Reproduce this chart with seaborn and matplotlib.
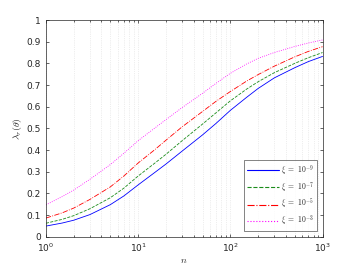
import numpy as np
import pandas as pd
import matplotlib
matplotlib.use('Agg')
import matplotlib.pyplot as plt
from matplotlib.lines import Line2D
import seaborn as sns

sns.set_style('ticks')
plt.rcParams['font.family'] = ['DejaVu Sans']
plt.rcParams['mathtext.fontset'] = 'cm'

# 그림에서 읽은 값 (n, 각 xi별 lambda_r)
n_vals = [1, 1.5, 2, 3, 5, 7, 10, 15, 20, 30, 50, 70, 100, 150, 200, 300, 500, 700, 1000]
lam_xi9 = [0.049, 0.063, 0.076, 0.102, 0.148, 0.188, 0.239, 0.295, 0.335, 0.395,
           0.470, 0.523, 0.583, 0.643, 0.684, 0.733, 0.780, 0.808, 0.832]
lam_xi7 = [0.062, 0.080, 0.097, 0.129, 0.180, 0.224, 0.280, 0.338, 0.380, 0.443,
           0.520, 0.572, 0.627, 0.681, 0.715, 0.757, 0.800, 0.826, 0.850]
lam_xi5 = [0.086, 0.110, 0.132, 0.172, 0.230, 0.280, 0.340, 0.400, 0.445, 0.507,
           0.578, 0.625, 0.670, 0.718, 0.748, 0.787, 0.830, 0.855, 0.877]
lam_xi3 = [0.147, 0.185, 0.215, 0.265, 0.333, 0.385, 0.443, 0.500, 0.540, 0.596,
           0.662, 0.708, 0.754, 0.797, 0.823, 0.850, 0.878, 0.894, 0.908]

labels = [r'$\xi\ =\ 10^{-9}$', r'$\xi\ =\ 10^{-7}$', r'$\xi\ =\ 10^{-5}$', r'$\xi\ =\ 10^{-3}$']
series = [lam_xi9, lam_xi7, lam_xi5, lam_xi3]
colors = ['#0000ff', '#1a8c1a', '#ff0000', '#ff00ff']
styles = ['-', '--', '-.', ':']

fig = plt.figure(figsize=(3.56, 2.67), dpi=100)
ax = fig.add_axes([0.129, 0.1135, 0.777, 0.8115])

for ys, c, ls in zip(series, colors, styles):
    df = pd.DataFrame({'n': n_vals, 'lam': ys})
    sns.lineplot(data=df, x='n', y='lam', ax=ax, color=c, linestyle=ls,
                 linewidth=0.6)

ax.set_xscale('log')
ax.set_xlim(1, 1000)
ax.set_ylim(0, 1)
ax.set_yticks(np.arange(0, 1.01, 0.1))
ax.set_yticklabels(['0', '0.1', '0.2', '0.3', '0.4', '0.5', '0.6', '0.7', '0.8', '0.9', '1'])

ax.grid(True, which='both', axis='x', color='#dddddd', linestyle=':', linewidth=0.5)
ax.tick_params(which='both', direction='in', top=True, right=True,
               labelsize=6.5, colors='#262626', width=0.5, length=2.5)
ax.tick_params(which='minor', length=1.5)
for s in ax.spines.values():
    s.set_color('#262626')
    s.set_linewidth(0.5)

ax.set_xlabel(r'$n$', fontsize=7, labelpad=1)
ax.set_ylabel(r'$\lambda_r(\theta)$', fontsize=7, labelpad=2)

handles = [Line2D([], [], color=c, linestyle=ls, linewidth=0.8)
           for c, ls in zip(colors, styles)]
leg = ax.legend(handles, labels, loc='lower right', fontsize=5.5, frameon=True,
                fancybox=False, handlelength=4.2, borderpad=0.4, labelspacing=0.3,
                handletextpad=0.3, borderaxespad=0.7)
leg.get_frame().set_edgecolor('#262626')
leg.get_frame().set_linewidth(0.5)

fig.savefig('out.png', dpi=100, facecolor='white')
